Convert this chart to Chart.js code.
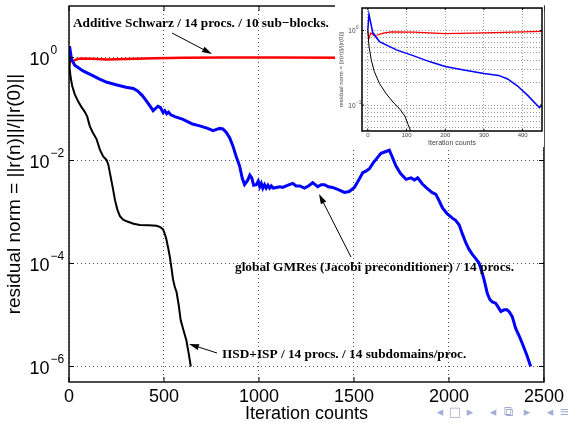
<!DOCTYPE html>
<html lang="en">
<head>
<meta charset="UTF-8">
<title>Residual norm vs iteration counts</title>
<script src="https://cdn.jsdelivr.net/npm/chart.js"></script>
<style>
  html, body { margin: 0; padding: 0; background: #fff; }
  #wrap { position: relative; width: 568px; height: 423px; overflow: hidden; }
  #main { position: absolute; left: 0; top: 0; }
  #insetBox { position: absolute; left: 335px; top: 0; width: 209px; height: 147px; background: #fff; }
</style>
</head>
<body>
<div id="wrap">
  <canvas id="main" width="568" height="423"></canvas>
  <div id="insetBox"><canvas id="inset" width="209" height="147"></canvas></div>
</div>

<script>
// values (iteration count -> ||r(n)||/||r(0)||)
const blackIter = [0, 3, 9, 17, 30, 48, 65, 83, 96, 104, 110, 125, 145, 163, 180, 198, 207, 215, 230, 242, 255, 268, 285, 303, 340, 373, 420, 461, 480, 495, 505, 513, 522, 530, 539, 548, 557, 566, 577, 588, 603, 618, 630, 641];
const blackRes = [1.0, 0.62, 0.40, 0.28, 0.195, 0.141, 0.11, 0.088, 0.071, 0.055, 0.046, 0.035, 0.026, 0.016, 0.012, 0.0102, 0.0083, 0.0058, 0.003, 0.0017, 0.0011, 8.3e-4, 7.1e-4, 6.6e-4, 5.9e-4, 5.6e-4, 5.5e-4, 5.4e-4, 5.1e-4, 4.6e-4, 3.7e-4, 2.9e-4, 2.0e-4, 1.4e-4, 8.3e-5, 4.8e-5, 3.5e-5, 2.8e-5, 1.6e-5, 7.9e-6, 5.0e-6, 3.2e-6, 1.8e-6, 1.0e-6];

const blueIter = [0, 3, 13, 30, 74, 117, 161, 200, 248, 300, 338, 361, 387, 413, 443, 468, 482, 495, 504, 514, 524, 536, 557, 600, 650, 688, 730, 758, 793, 810, 828, 846, 863, 880, 898, 912, 924, 940, 952, 962, 972, 986, 996, 1004, 1012, 1020, 1029, 1038, 1047, 1056, 1065, 1075, 1091, 1110, 1125, 1143, 1160, 1178, 1195, 1215, 1239, 1260, 1283, 1296, 1309, 1327, 1345, 1365, 1388, 1420, 1450, 1475, 1502, 1525, 1546, 1565, 1581, 1600, 1616, 1642, 1665, 1686, 1700, 1721, 1745, 1774, 1800, 1818, 1835, 1860, 1879, 1910, 1931, 1950, 1966, 1990, 2018, 2035, 2054, 2070, 2089, 2105, 2123, 2140, 2158, 2172, 2185, 2202, 2215, 2228, 2245, 2255, 2273, 2290, 2305, 2316, 2333, 2351, 2368, 2386, 2410, 2430];
const blueRes = [1.0, 1.65, 0.93, 0.71, 0.55, 0.46, 0.38, 0.33, 0.295, 0.265, 0.25, 0.224, 0.18, 0.135, 0.093, 0.113, 0.106, 0.086, 0.093, 0.081, 0.087, 0.077, 0.071, 0.063, 0.051, 0.047, 0.042, 0.038, 0.042, 0.041, 0.035, 0.0275, 0.019, 0.012, 0.0078, 0.0045, 0.0034, 0.0041, 0.0052, 0.0046, 0.0033, 0.0034, 0.004, 0.0031, 0.0036, 0.0029, 0.0034, 0.0029, 0.0033, 0.0029, 0.0032, 0.0029, 0.003, 0.0031, 0.003, 0.0032, 0.0034, 0.0036, 0.0032, 0.0032, 0.0029, 0.0032, 0.0037, 0.0034, 0.0031, 0.0034, 0.0034, 0.0031, 0.003, 0.0027, 0.0024, 0.0025, 0.003, 0.0042, 0.0058, 0.0063, 0.0069, 0.0089, 0.0105, 0.0138, 0.0148, 0.0158, 0.012, 0.0078, 0.0056, 0.0043, 0.0046, 0.0042, 0.0046, 0.0035, 0.003, 0.0024, 0.0022, 0.0016, 0.0012, 9.3e-4, 7.6e-4, 6.9e-4, 5.6e-4, 3.8e-4, 2.5e-4, 1.9e-4, 1.5e-4, 1.26e-4, 1.02e-4, 7.1e-5, 4.8e-5, 2.6e-5, 2.0e-5, 1.8e-5, 1.7e-5, 1.5e-5, 1.17e-5, 1.26e-5, 1.26e-5, 1.17e-5, 9.3e-6, 5.5e-6, 4.0e-6, 2.8e-6, 1.66e-6, 1.0e-6];

const redIter = [0, 3, 8, 15, 25, 40, 60, 120, 200, 300, 450, 600, 800, 1100, 1500];
const redRes = [1.0, 0.78, 0.93, 0.86, 0.87, 0.92, 0.96, 0.95, 0.91, 0.93, 0.97, 0.99, 1.0, 1.0, 0.99];

const mainXTicks = [0, 500, 1000, 1500, 2000, 2500];
const mainYTicks = [1e-6, 1e-4, 1e-2, 1];
const mainYExp = ['\u22126', '\u22124', '\u22122', '0'];

const insetXTicks = [0, 100, 200, 300, 400];
const insetYGrid = [0.05, 0.06, 0.07, 0.08, 0.09, 0.1, 0.2, 0.3, 0.4, 0.5, 0.6, 0.7, 0.8, 0.9, 1, 2];
const insetYLabelVals = [0.1, 1];
const insetYExp = ['\u22121', '0'];

const pts = (xs, ys) => xs.map((x, i) => ({ x: x, y: ys[i] }));

function series(widths) {
  return [
    { data: pts(blackIter, blackRes), borderColor: '#000000', borderWidth: widths[0] },
    { data: pts(blueIter, blueRes), borderColor: '#0000ff', borderWidth: widths[1] },
    { data: pts(redIter, redRes), borderColor: '#ff0000', borderWidth: widths[2] }
  ].map(d => Object.assign(d, { pointRadius: 0, tension: 0, fill: false }));
}

// solid box + inward ticks, matlab style
function framePlugin(lw, tickLen, xTicks, yTicks) {
  return {
    id: 'frame',
    afterDatasetsDraw(chart) {
      const { ctx, chartArea: a, scales } = chart;
      ctx.save();
      ctx.strokeStyle = '#000';
      ctx.lineWidth = 1;
      ctx.beginPath();
      xTicks.forEach(v => {
        const x = scales.x.getPixelForValue(v);
        ctx.moveTo(x, a.bottom); ctx.lineTo(x, a.bottom - tickLen);
        ctx.moveTo(x, a.top); ctx.lineTo(x, a.top + tickLen);
      });
      yTicks.forEach(v => {
        const y = scales.y.getPixelForValue(v);
        ctx.moveTo(a.left, y); ctx.lineTo(a.left + tickLen, y);
        ctx.moveTo(a.right, y); ctx.lineTo(a.right - tickLen, y);
      });
      ctx.stroke();
      ctx.lineWidth = lw;
      ctx.strokeRect(a.left, a.top, a.right - a.left, a.bottom - a.top);
      ctx.restore();
    }
  };
}

// "10" with a raised exponent
function powerLabels(vals, exps, o) {
  return {
    id: 'powLabels',
    afterDraw(chart) {
      const { ctx } = chart;
      const sy = chart.scales.y;
      ctx.save();
      ctx.fillStyle = o.color;
      ctx.textBaseline = 'alphabetic';
      vals.forEach((v, i) => {
        const y = sy.getPixelForValue(v);
        ctx.font = o.base + 'px "Liberation Sans"';
        ctx.textAlign = 'right';
        ctx.fillText('10', o.x, y + o.baseDy);
        ctx.font = o.exp + 'px "Liberation Sans"';
        ctx.textAlign = 'left';
        ctx.fillText(exps[i], o.x + o.gap, y + o.expDy);
      });
      ctx.restore();
    }
  };
}

function arrow(ctx, x1, y1, x2, y2) {
  const ang = Math.atan2(y2 - y1, x2 - x1);
  const c = Math.cos(ang), s = Math.sin(ang);
  const hl = 10, hw = 3;
  ctx.beginPath();
  ctx.moveTo(x1, y1);
  ctx.lineTo(x2 - hl * c, y2 - hl * s);
  ctx.stroke();
  ctx.beginPath();
  ctx.moveTo(x2, y2);
  ctx.lineTo(x2 - hl * c + hw * s, y2 - hl * s - hw * c);
  ctx.lineTo(x2 - hl * c - hw * s, y2 - hl * s + hw * c);
  ctx.closePath();
  ctx.fill();
}

const notes = {
  id: 'notes',
  afterDraw(chart) {
    const ctx = chart.ctx;
    ctx.save();
    ctx.fillStyle = '#000';
    ctx.strokeStyle = '#000';
    ctx.lineWidth = 1;
    ctx.font = 'bold 13.3px "Liberation Serif"';
    ctx.textBaseline = 'middle';
    ctx.textAlign = 'left';
    ctx.fillText('Additive Schwarz / 14 procs. / 10 sub\u2212blocks.', 73, 23.5);
    ctx.fillText('global GMRes (Jacobi preconditioner) / 14 procs.', 235, 267.5);
    ctx.fillText('IISD+ISP / 14 procs. / 14 subdomains/proc.', 222, 355);
    arrow(ctx, 172, 33, 212, 54);
    arrow(ctx, 351, 257, 319, 194);
    arrow(ctx, 217, 353, 189, 344);

    // beamer navigation symbols
    ctx.fillStyle = '#a3acd4';
    ctx.font = '13px "DejaVu Sans"';
    ctx.textAlign = 'center';
    const nav = ['\u25C2', '\u25A1', '\u25B8', '\u25C2', '\u29C9', '\u25B8', '\u25C2', '\u2261'];
    const navX = [440, 455, 470, 493, 508, 527, 550, 565];
    nav.forEach((g, i) => ctx.fillText(g, navX[i], 413));
    ctx.restore();
  }
};

const sans = 'Liberation Sans';
const plain = v => String(v);

new Chart(document.getElementById('main'), {
  type: 'line',
  data: { datasets: series([2, 3, 2.5]) },
  options: {
    responsive: false,
    animation: false,
    devicePixelRatio: 1,
    layout: { padding: { left: 0, right: 23, top: 6, bottom: 0 } },
    plugins: { legend: { display: false }, tooltip: { enabled: false } },
    scales: {
      x: {
        type: 'linear', min: 0, max: 2500,
        afterBuildTicks: s => { s.ticks = mainXTicks.map(v => ({ value: v })); },
        afterFit: s => { s.height = 41; },
        grid: { color: '#555', lineWidth: 1, drawTicks: false },
        border: { display: false, dash: [1, 3] },
        ticks: { font: { family: sans, size: 18 }, color: '#000', padding: 4, maxRotation: 0, autoSkip: false, callback: plain },
        title: { display: true, text: 'Iteration counts', color: '#000', padding: 0,
                 font: { family: sans, size: 18, lineHeight: 1 } }
      },
      y: {
        type: 'logarithmic', min: 5e-7, max: 10,
        afterBuildTicks: s => { s.ticks = mainYTicks.map(v => ({ value: v })); },
        afterFit: s => { s.width = 69; },
        grid: { color: '#555', lineWidth: 1, drawTicks: false },
        border: { display: false, dash: [1, 3] },
        ticks: { display: false },
        title: { display: true, text: 'residual norm = ||r(n)||/||r(0)||', color: '#000',
                 padding: { top: 3, bottom: 0 }, font: { family: sans, size: 19 } }
      }
    }
  },
  plugins: [
    framePlugin(1.4, 5, mainXTicks, mainYTicks),
    powerLabels(mainYTicks, mainYExp, { color: '#000', base: 18, exp: 12, x: 49.5, gap: 1, baseDy: 7.5, expDy: -3 }),
    notes
  ]
});

new Chart(document.getElementById('inset'), {
  type: 'line',
  data: { datasets: series([1, 1.5, 1.2]) },
  options: {
    responsive: false,
    animation: false,
    devicePixelRatio: 1,
    layout: { padding: { left: 0, right: 2, top: 8, bottom: 0 } },
    plugins: { legend: { display: false }, tooltip: { enabled: false } },
    scales: {
      x: {
        type: 'linear', min: -15, max: 450,
        afterBuildTicks: s => { s.ticks = insetXTicks.map(v => ({ value: v })); },
        afterFit: s => { s.height = 16; },
        grid: { color: '#999', lineWidth: 1, drawTicks: false },
        border: { display: false, dash: [1, 2] },
        ticks: { font: { family: sans, size: 6, lineHeight: 1 }, color: '#444', padding: 1.5, maxRotation: 0, autoSkip: false, callback: plain },
        title: { display: true, text: 'Iteration counts', color: '#444', padding: 0,
                 font: { family: sans, size: 7, lineHeight: 1 } }
      },
      y: {
        type: 'logarithmic', min: 0.045, max: 2,
        afterBuildTicks: s => { s.ticks = insetYGrid.map(v => ({ value: v })); },
        afterFit: s => { s.width = 27; },
        grid: { color: '#999', lineWidth: 1, drawTicks: false },
        border: { display: false, dash: [1, 2] },
        ticks: { display: false },
        title: { display: true, text: 'residual norm = ||r(n)||/||r(0)||', color: '#444',
                 padding: { top: 3.5, bottom: 0 }, font: { family: sans, size: 6, lineHeight: 1 } }
      }
    }
  },
  plugins: [
    framePlugin(1.5, 2, insetXTicks, insetYLabelVals),
    powerLabels(insetYLabelVals, insetYExp, { color: '#444', base: 6.5, exp: 4.5, x: 20.5, gap: 0.5, baseDy: 2.5, expDy: -1 })
  ]
});
</script>
</body>
</html>
